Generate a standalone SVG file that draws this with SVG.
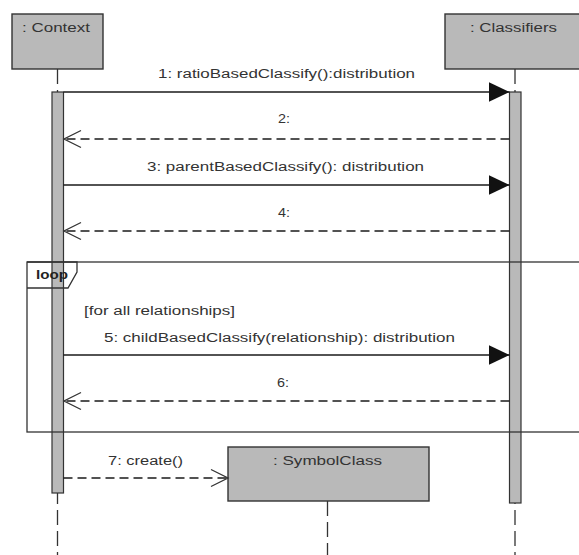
<svg xmlns="http://www.w3.org/2000/svg" width="579" height="555" viewBox="0 0 579 555">
  <style>
    .box { fill: #b9b9b9; stroke: #333333; stroke-width: 1.4; }
    .bar { fill: #b9b9b9; stroke: #333333; stroke-width: 1.2; }
    .life { stroke: #333333; stroke-width: 1.3; stroke-dasharray: 15 6; fill: none; }
    .msg { stroke: #1a1a1a; stroke-width: 1.3; fill: none; }
    .ret { stroke: #1a1a1a; stroke-width: 1.3; fill: none; stroke-dasharray: 9 5; }
    .frame { stroke: #333333; stroke-width: 1.3; fill: none; }
    .lbl { font-family: "Liberation Sans", Arial, sans-serif; font-size: 12.5px; fill: #333333; }
    .bold { font-weight: bold; fill: #222222; }
  </style>
  <defs>
    <marker id="filled" viewBox="0 0 21 20" refX="21" refY="10" markerWidth="21" markerHeight="20" markerUnits="userSpaceOnUse" orient="auto">
      <path d="M0,0 L21,10 L0,20 Z" fill="#111111"/>
    </marker>
    <marker id="open" viewBox="-19 -10 21 20" refX="0" refY="0" markerWidth="21" markerHeight="20" markerUnits="userSpaceOnUse" orient="auto">
      <path d="M-17,-8.5 L0,0 L-17,8.5" fill="none" stroke="#333333" stroke-width="1.3"/>
    </marker>
  </defs>
  <rect width="579" height="555" fill="#ffffff"/>

  <g id="context">
    <line class="life" x1="57.5" y1="69" x2="57.5" y2="555"/>
    <rect class="box" x="12" y="14" width="91" height="55"/>
    <text class="lbl" x="22" y="32" textLength="68" lengthAdjust="spacingAndGlyphs">: Context</text>
    <rect class="bar" x="52" y="92" width="11.5" height="401"/>
  </g>

  <g id="classifiers">
    <line class="life" x1="515" y1="69" x2="515" y2="555"/>
    <rect class="box" x="445" y="14" width="140" height="55"/>
    <text class="lbl" x="470" y="32" textLength="87" lengthAdjust="spacingAndGlyphs">: Classifiers</text>
    <rect class="bar" x="509.5" y="92" width="11.5" height="411"/>
  </g>

  <g id="symbolclass">
    <line class="life" x1="327.5" y1="501" x2="327.5" y2="555"/>
    <rect class="box" x="228" y="447" width="201" height="54"/>
    <text class="lbl" x="273" y="465" textLength="109" lengthAdjust="spacingAndGlyphs">: SymbolClass</text>
  </g>

  <g id="loop">
    <rect class="frame" x="27" y="262" width="570" height="170"/>
    <path class="frame" d="M27,262 H77 V272 L68,288 H27"/>
    <text class="lbl bold" x="36" y="279" textLength="32" lengthAdjust="spacingAndGlyphs">loop</text>
    <text class="lbl" x="84" y="315" textLength="151" lengthAdjust="spacingAndGlyphs">[for all relationships]</text>
  </g>

  <g id="connectors">
    <line class="msg" x1="63.5" y1="92" x2="509.5" y2="92" marker-end="url(#filled)"/>
    <text class="lbl" x="158" y="78" textLength="257" lengthAdjust="spacingAndGlyphs">1: ratioBasedClassify():distribution</text>

    <line class="ret" x1="509.5" y1="139" x2="64" y2="139" marker-end="url(#open)"/>
    <text class="lbl" x="278" y="123" textLength="12" lengthAdjust="spacingAndGlyphs">2:</text>

    <line class="msg" x1="63.5" y1="185" x2="509.5" y2="185" marker-end="url(#filled)"/>
    <text class="lbl" x="147" y="171" textLength="277" lengthAdjust="spacingAndGlyphs">3: parentBasedClassify(): distribution</text>

    <line class="ret" x1="509.5" y1="231" x2="64" y2="231" marker-end="url(#open)"/>
    <text class="lbl" x="278" y="217" textLength="12" lengthAdjust="spacingAndGlyphs">4:</text>

    <line class="msg" x1="63.5" y1="355" x2="509.5" y2="355" marker-end="url(#filled)"/>
    <text class="lbl" x="104" y="342" textLength="351" lengthAdjust="spacingAndGlyphs">5: childBasedClassify(relationship): distribution</text>

    <line class="ret" x1="509.5" y1="401" x2="64" y2="401" marker-end="url(#open)"/>
    <text class="lbl" x="277" y="387" textLength="12" lengthAdjust="spacingAndGlyphs">6:</text>

    <line class="ret" x1="63.5" y1="478" x2="228" y2="478" marker-end="url(#open)"/>
    <text class="lbl" x="108" y="465" textLength="75" lengthAdjust="spacingAndGlyphs">7: create()</text>
  </g>
</svg>
